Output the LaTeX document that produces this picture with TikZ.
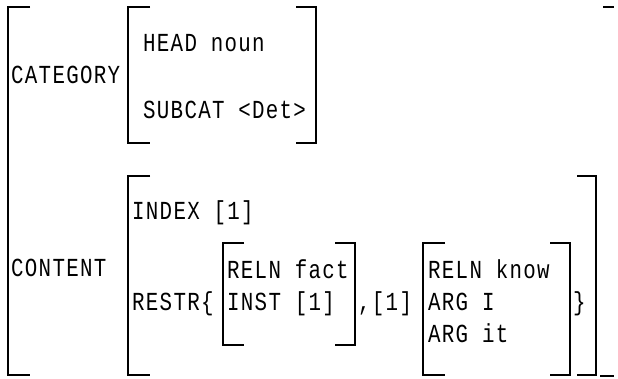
\documentclass[tikz,border=0pt]{standalone}
\usepackage{fontspec}
\newfontfamily\avmfont[FakeStretch=0.8,LetterSpace=5]{Liberation Mono}
\begin{document}
\begin{tikzpicture}[x=1pt,y=-1pt,
  lbl/.style={anchor=base west,inner sep=0pt,font=\avmfont\fontsize{26}{28}\selectfont},
  brk/.style={line width=1.4pt,line cap=butt}]
\useasboundingbox (0,0) rectangle (618,378);
% outer bracket
\draw[brk] (30,7) -- (8,7) -- (8,375) -- (30,375);
\draw[brk] (603,7) -- (614,7);
\draw[brk] (600,376) -- (614,376);
% category bracket
\draw[brk] (150,7) -- (128,7) -- (128,143) -- (150,143);
\draw[brk] (296,7) -- (316,7) -- (316,143) -- (296,143);
% content bracket
\draw[brk] (150,176) -- (128,176) -- (128,375) -- (150,375);
\draw[brk] (577,176) -- (596,176) -- (596,375) -- (577,375);
% restr inner bracket 1
\draw[brk] (244,243) -- (223,243) -- (223,345) -- (244,345);
\draw[brk] (335,243) -- (355,243) -- (355,345) -- (335,345);
% restr inner bracket 2
\draw[brk] (445,243) -- (423,243) -- (423,375) -- (445,375);
\draw[brk] (550,243) -- (570,243) -- (570,375) -- (550,375);
% texts
\node[lbl] (cat) at (11,83) {CATEGORY};
\node[lbl] (head) at (143,51) {HEAD noun};
\node[lbl] (subcat) at (143,118) {SUBCAT <Det>};
\node[lbl] (cont) at (11,276) {CONTENT};
\node[lbl] (index) at (132,219) {INDEX [1]};
\node[lbl] (restr) at (132,310) {RESTR\{};
\node[lbl] (reln1) at (227,278) {RELN fact};
\node[lbl] (inst) at (227,310) {INST [1]};
\node[lbl] (tag) at (358,310) {,[1]};
\node[lbl] (reln2) at (428,278) {RELN know};
\node[lbl] (arg1) at (428,310) {ARG I};
\node[lbl] (arg2) at (428,342) {ARG it};
\node[lbl] (close) at (573,310) {\}};
\end{tikzpicture}
\end{document}
